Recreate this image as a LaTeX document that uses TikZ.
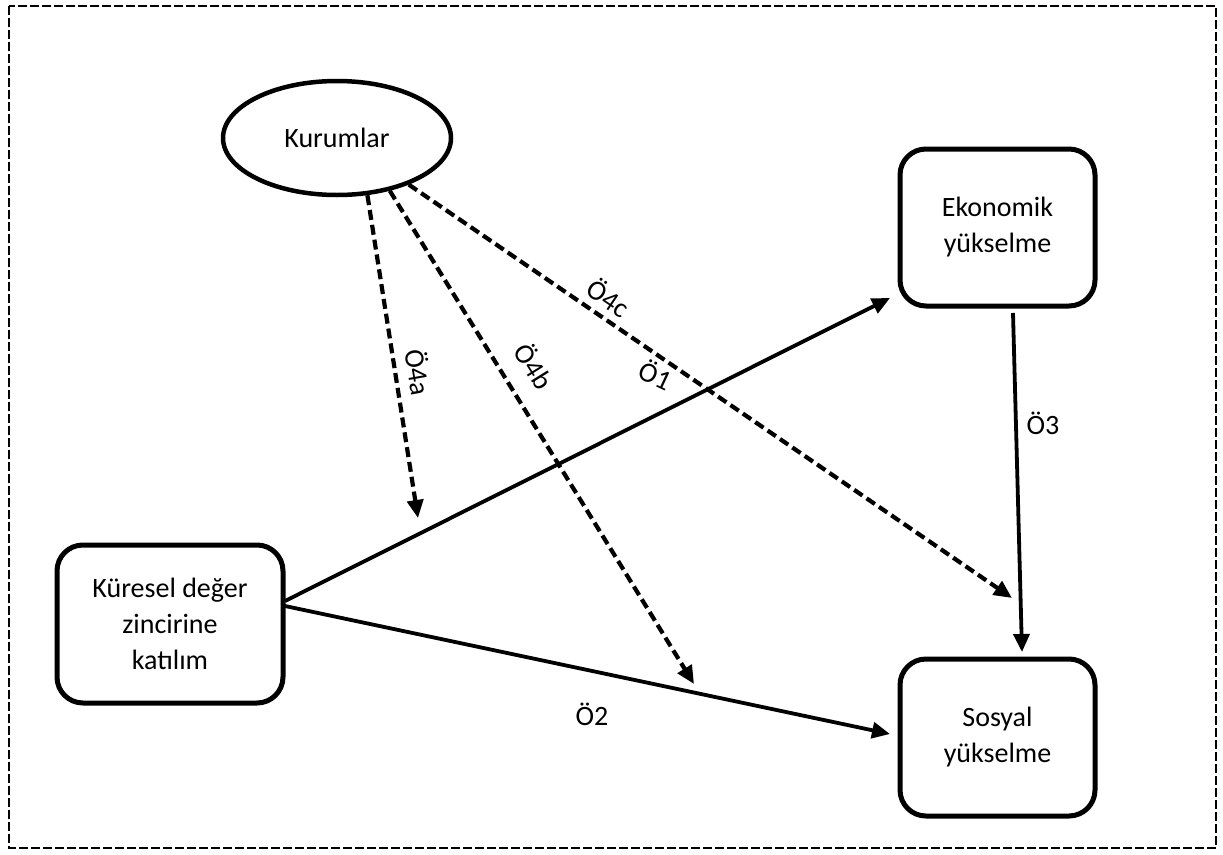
\documentclass[tikz,border=0pt]{standalone}
\usepackage{fontspec}
\setmainfont{Carlito}
\usetikzlibrary{arrows.meta,shapes.geometric}
\begin{document}
\begin{tikzpicture}[x=1pt,y=-1pt,
  every node/.style={font=\fontsize{28}{36}\selectfont},
  boxnode/.style={draw,line width=5pt,rounded corners=26pt,align=center,inner sep=0pt},
  solidarrow/.style={line width=3.8pt,-{Triangle[length=18pt,width=16pt]}},
  dasharrow/.style={line width=4.2pt,dash pattern=on 10pt off 5pt,-{Triangle[length=18pt,width=16pt]}},
  lbl/.style={inner sep=0pt,font=\fontsize{28}{36}\selectfont}]
\useasboundingbox (0,0) rectangle (1223,854);
\draw[line width=2.2pt,dash pattern=on 9pt off 3pt] (9,6) rectangle (1216,848);

\node[draw,ellipse,line width=4.5pt,minimum width=228pt,minimum height=114pt,inner sep=0pt] (kur) at (337,138) {Kurumlar};
\node[boxnode,minimum width=226pt,minimum height=158pt] (kd) at (170,624) {Küresel değer\\zincirine\\katılım};
\node[boxnode,minimum width=195pt,minimum height=157pt] (ek) at (997.5,227.5) {Ekonomik\\yükselme};
\node[boxnode,minimum width=195pt,minimum height=157pt] (so) at (997.5,737.5) {Sosyal\\yükselme};

\coordinate (kdA) at (285,601);
\coordinate (kdB) at (285,606);
\coordinate (ekB) at (1013,313);
\coordinate (e1) at (890,298);
\coordinate (e2) at (890,734);
\coordinate (e3) at (1022,652);
\coordinate (e4a) at (418,518);
\coordinate (e4b) at (694,684);
\coordinate (e4c) at (1012,598);

\draw[solidarrow] (kdA) -- (e1);
\draw[solidarrow] (kdB) -- (e2);
\draw[solidarrow] (ekB) -- (e3);
\draw[dasharrow] (kur.-62.6) -- (e4a);
\draw[dasharrow] (kur.-45) -- (e4b);
\draw[dasharrow] (kur.-33) -- (e4c);

\node[lbl,rotate=-80] (l4a) at (419,372) {Ö4a};
\node[lbl,rotate=-58] (l4b) at (535,366) {Ö4b};
\node[lbl,rotate=-34] (l4c) at (609,297) {Ö4c};
\node[lbl,rotate=-25] (l1) at (656,374) {Ö1};
\node[lbl] (l2) at (592,714) {Ö2};
\node[lbl] (l3) at (1043,423) {Ö3};
\end{tikzpicture}
\end{document}
